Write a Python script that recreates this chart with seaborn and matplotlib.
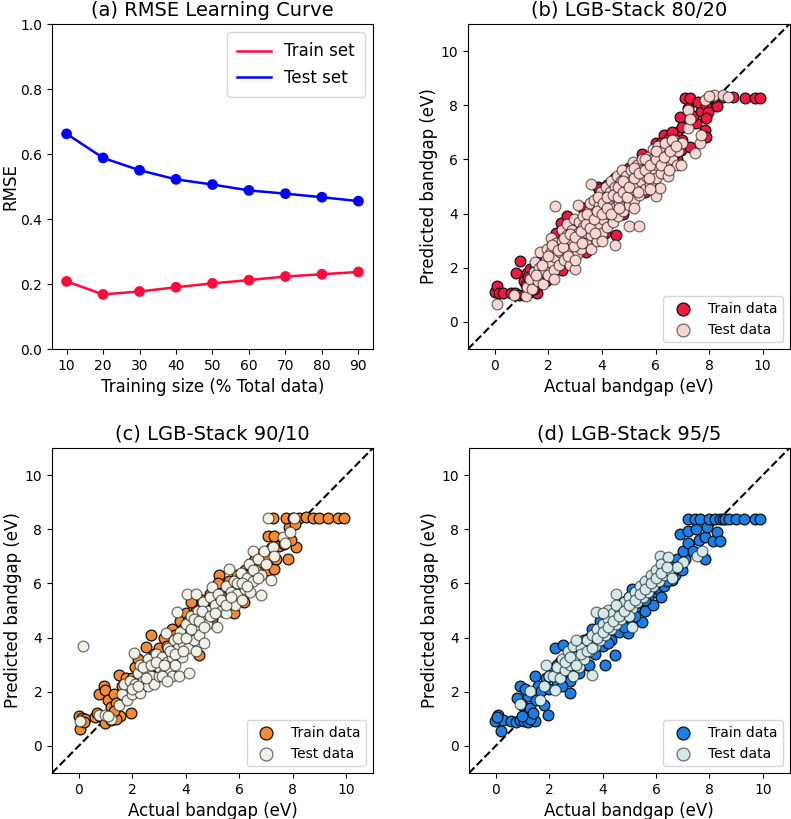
import numpy as np
import pandas as pd
import matplotlib
matplotlib.use("Agg")
import matplotlib.pyplot as plt
import seaborn as sns

# (a) learning curve
train_size = [10, 20, 30, 40, 50, 60, 70, 80, 90]
rmse_train = [0.208, 0.168, 0.177, 0.190, 0.202, 0.212, 0.223, 0.230, 0.237]
rmse_test = [0.662, 0.588, 0.550, 0.522, 0.506, 0.488, 0.478, 0.467, 0.455]

# (b) 80/20 split, (actual, predicted)
b_train = [
    (0.0, 1.1), (0.1, 1.31), (0.15, 1.07), (0.3, 1.05), (0.6, 1.05), (0.75, 1.05), (0.9, 1.0),
    (1.1, 1.0), (1.3, 1.1), (1.59, 1.05), (1.45, 1.2),
    (0.78, 1.8), (0.95, 2.24), (1.1, 1.5), (1.2, 1.8), (1.3, 1.95), (1.15, 1.35), (1.4, 1.55),
    (1.25, 1.65), (1.5, 2.0), (1.7, 2.2), (1.9, 2.4), (1.6, 1.4), (1.9, 1.5), (2.5, 1.9),
    (2.0, 2.2), (2.3, 3.28), (2.46, 3.65), (2.71, 3.9), (2.5, 2.4), (2.8, 2.9), (3.0, 3.4),
    (3.3, 3.0), (3.5, 3.7), (3.6, 4.14), (3.84, 5.0), (4.2, 5.06), (4.1, 3.3), (4.0, 4.3),
    (4.52, 3.22), (4.3, 4.6), (4.7, 4.5), (5.0, 5.3), (5.2, 4.9), (5.5, 5.8), (5.6, 4.9),
    (2.2, 2.8), (2.6, 3.3), (3.3, 4.2), (3.9, 4.9), (4.5, 5.3), (5.0, 5.7), (5.5, 6.2),
    (6.0, 6.6), (6.3, 6.9), (6.8, 7.0), (3.4, 2.6), (4.8, 4.0), (5.6, 4.8), (6.3, 5.6), (6.8, 6.0),
    (5.9, 5.92), (6.0, 6.3), (6.2, 6.6), (6.4, 6.5), (6.5, 6.8), (6.7, 6.2), (6.96, 6.35),
    (7.0, 6.72), (6.6, 7.02), (6.9, 7.58), (7.0, 7.2), (7.2, 7.89), (7.27, 6.47), (7.5, 7.33),
    (7.4, 7.6), (7.7, 7.8), (8.1, 8.1),
    (7.1, 8.26), (7.3, 8.26), (7.6, 8.13), (7.9, 8.0), (7.96, 7.76), (7.9, 7.52), (7.85, 7.09),
    (7.9, 6.84), (8.3, 7.97), (8.0, 8.26), (8.2, 8.3), (8.5, 8.3), (8.9, 8.32), (9.34, 8.26),
    (9.7, 8.26), (9.9, 8.26),
]
b_test = [
    (0.1, 0.68), (0.7, 1.0), (1.15, 0.95), (1.2, 1.3), (1.3, 1.6), (1.4, 1.2), (1.45, 1.85),
    (1.5, 2.2), (1.6, 1.5), (1.65, 2.0), (1.7, 2.6), (1.8, 1.4), (1.85, 1.9), (1.9, 2.3),
    (1.95, 2.7), (2.0, 1.75), (2.05, 2.2), (2.1, 2.6), (2.1, 3.1), (2.23, 4.28), (2.2, 1.9),
    (2.25, 2.4), (2.3, 2.9), (2.4, 2.1), (2.45, 2.6), (2.5, 3.0), (2.5, 3.4), (2.6, 2.3),
    (2.65, 2.8), (2.7, 3.2), (2.7, 3.6), (2.8, 2.1), (2.85, 2.6), (2.9, 3.0), (2.9, 3.4),
    (2.95, 3.8), (3.0, 1.95), (3.05, 2.5), (3.1, 2.9), (3.1, 3.3), (3.15, 3.7), (3.1, 4.3),
    (3.2, 2.7), (3.25, 3.1), (3.3, 3.5), (3.3, 3.9), (3.4, 2.9), (3.45, 3.3), (3.5, 3.7),
    (3.5, 4.1), (3.55, 4.4), (3.6, 2.7), (3.6, 3.2), (3.65, 3.6), (3.7, 4.0), (3.7, 4.5),
    (3.6, 5.1), (3.8, 3.0), (3.85, 3.5), (3.9, 3.9), (3.9, 4.3), (3.95, 4.8), (4.0, 3.3),
    (4.05, 3.8), (4.1, 4.2), (4.1, 4.6), (4.15, 5.0), (4.2, 3.5), (4.25, 4.0), (4.3, 4.4),
    (4.3, 4.8), (4.35, 5.2), (4.4, 3.7), (4.45, 4.2), (4.5, 4.6), (4.5, 5.0), (4.55, 5.4),
    (4.5, 2.84), (4.6, 3.9), (4.65, 4.4), (4.7, 4.8), (4.7, 5.2), (4.75, 5.6), (4.8, 4.1),
    (4.85, 4.6), (4.9, 5.0), (4.9, 5.4), (5.0, 3.55), (5.0, 4.3), (5.05, 4.8), (5.1, 5.2),
    (5.1, 5.6), (5.15, 5.9), (5.2, 4.5), (5.25, 5.0), (5.3, 5.4), (5.3, 5.8), (5.4, 3.55),
    (5.4, 4.7), (5.45, 5.2), (5.5, 5.6), (5.5, 6.0), (5.6, 4.9), (5.65, 5.4), (5.7, 5.8),
    (5.7, 6.1), (5.8, 5.1), (5.85, 5.6), (5.9, 6.0), (5.9, 6.4), (6.0, 4.65), (6.0, 5.3),
    (6.05, 5.8), (6.1, 6.2), (6.1, 6.5), (6.15, 4.95), (6.2, 5.5), (6.25, 6.0), (6.3, 6.4),
    (6.46, 5.37), (6.4, 5.8), (6.45, 6.2), (6.5, 6.6), (6.6, 6.0), (6.65, 6.4), (6.7, 6.7),
    (6.8, 5.8), (6.85, 6.3), (6.9, 6.6), (6.96, 5.8), (7.0, 6.6), (7.21, 7.15), (7.21, 7.83),
    (7.46, 6.23), (7.65, 6.6), (7.71, 6.9), (7.3, 7.5), (7.84, 8.2), (8.2, 8.38), (8.5, 8.38),
    (8.7, 8.32), (8.0, 8.35),
    (1.55, 1.75), (1.75, 2.1), (2.0, 2.45), (2.15, 2.85), (2.35, 2.65), (2.55, 2.75), (2.6, 3.1),
    (2.75, 2.45), (2.8, 3.25), (2.95, 2.8), (3.0, 3.15), (3.2, 3.35), (3.25, 2.9), (3.4, 3.6),
    (3.45, 4.0), (3.55, 3.45), (3.7, 3.8), (3.75, 3.3), (3.8, 4.1), (3.85, 4.6), (4.0, 4.0),
    (4.05, 4.4), (4.2, 4.2), (4.2, 4.6), (4.35, 4.0), (4.4, 4.7), (4.6, 4.6), (4.6, 5.0),
    (4.65, 4.2), (4.8, 4.8), (4.8, 5.2), (4.95, 4.6), (5.0, 5.0), (5.2, 5.3), (5.2, 5.7),
    (5.35, 4.8), (5.4, 5.5), (5.6, 5.6), (5.6, 6.0), (5.75, 5.3), (5.8, 5.8), (6.0, 6.0),
    (6.0, 6.3), (6.2, 5.8), (6.3, 6.1), (6.35, 6.6), (6.55, 6.3), (6.6, 6.7), (6.75, 6.5),
    (6.5, 5.6), (5.2, 4.2), (4.0, 3.0), (3.0, 2.3), (2.2, 1.6), (5.8, 4.9),
]

# (c) 90/10 split
c_train = [
    (0.0, 1.1), (0.06, 0.61), (0.12, 1.04), (0.25, 1.0), (0.2, 0.9), (0.6, 1.05), (0.8, 1.1),
    (1.0, 0.86), (1.2, 0.95), (1.56, 1.1), (1.94, 1.22), (1.4, 1.0), (0.7, 1.2),
    (0.75, 1.9), (0.94, 2.2), (1.0, 2.08), (1.1, 1.7), (1.2, 1.45), (1.3, 1.9), (1.5, 2.63),
    (1.4, 1.6), (1.6, 2.2), (1.7, 1.8), (1.75, 2.5), (1.85, 2.0), (1.3, 1.3),
    (2.12, 2.93), (2.0, 2.5), (2.3, 2.7), (2.2, 3.2), (2.5, 3.67), (2.69, 4.1), (2.4, 2.2),
    (2.6, 3.0), (2.8, 3.4), (2.9, 2.6), (3.0, 3.6), (3.2, 4.0), (3.1, 3.0), (3.4, 3.3),
    (3.5, 4.3), (3.6, 3.8), (3.8, 4.6), (3.9, 3.6), (4.0, 4.9), (4.2, 4.4), (4.3, 5.1),
    (4.5, 3.36), (4.5, 4.8), (4.6, 5.4), (4.8, 4.6), (4.9, 5.6), (5.0, 4.7), (5.1, 5.2),
    (5.25, 6.3), (5.3, 5.87), (5.4, 5.0), (5.5, 5.6), (5.6, 6.1), (5.81, 4.89), (5.8, 5.5),
    (5.9, 6.3), (6.0, 5.8), (6.19, 5.32), (6.2, 6.5), (6.3, 6.0), (6.4, 6.7), (6.5, 6.2),
    (6.6, 6.9), (6.7, 6.4), (6.8, 7.1), (6.9, 6.6), (7.06, 6.48), (7.3, 6.54), (7.37, 6.9),
    (7.06, 7.76), (7.3, 7.76), (7.2, 7.3), (7.5, 7.4), (7.69, 7.46), (7.81, 6.9), (8.12, 7.33),
    (7.87, 8.07), (7.95, 7.6),
    (2.1, 2.4), (2.4, 2.8), (2.7, 3.2), (3.0, 3.3), (3.3, 3.7), (3.6, 4.1), (3.9, 4.3),
    (4.1, 4.6), (4.4, 5.0), (4.7, 5.1), (5.0, 5.4), (5.3, 5.6), (5.6, 5.8), (5.9, 6.1),
    (6.2, 6.3), (6.5, 6.6), (6.8, 6.8), (7.0, 7.0), (5.2, 6.0), (4.2, 5.3),
    (7.25, 8.43), (7.75, 8.43), (8.0, 8.43), (8.25, 8.43), (8.5, 8.45), (8.75, 8.43),
    (9.0, 8.43), (9.3, 8.43), (9.7, 8.43), (9.9, 8.43), (8.1, 8.2),
]
c_test = [
    (0.06, 0.92), (0.16, 3.69), (0.75, 1.16), (1.0, 1.16), (1.19, 0.98), (1.1, 1.1), (1.5, 1.5),
    (1.6, 1.9), (1.7, 2.3), (1.8, 1.7), (1.9, 2.4), (2.0, 1.9), (2.06, 3.42), (2.1, 2.3),
    (2.2, 2.7), (2.3, 1.95), (2.3, 3.0), (2.4, 2.4), (2.5, 2.8), (2.6, 2.2), (2.6, 3.2),
    (2.7, 2.6), (2.8, 3.0), (2.8, 2.3), (2.9, 3.4), (3.0, 2.57), (3.0, 2.9), (3.1, 3.3),
    (3.2, 2.7), (3.25, 4.16), (3.3, 3.1), (3.35, 3.6), (3.4, 2.8), (3.5, 2.57), (3.5, 3.3),
    (3.55, 3.9), (3.6, 3.0), (3.69, 4.95), (3.7, 3.6), (3.75, 2.57), (3.8, 4.2), (3.85, 3.3),
    (3.9, 3.8), (4.0, 4.5), (4.06, 5.62), (4.1, 3.6), (4.12, 2.69), (4.15, 4.1), (4.2, 4.8),
    (4.3, 3.9), (4.37, 5.62), (4.4, 4.4), (4.45, 5.0), (4.5, 4.1), (4.6, 4.7), (4.65, 5.3),
    (4.7, 3.8), (4.8, 4.5), (4.85, 5.0), (4.9, 5.5), (5.0, 5.87), (5.0, 4.8), (5.1, 5.2),
    (5.15, 4.4), (5.2, 5.6), (5.3, 5.0), (5.4, 5.4), (5.5, 5.9), (5.5, 4.9), (5.62, 6.54),
    (5.6, 5.3), (5.7, 5.7), (5.8, 6.1), (5.85, 5.2), (5.9, 5.6), (6.0, 6.0), (6.05, 6.4),
    (6.1, 5.4), (6.2, 5.8), (6.3, 6.2), (6.35, 6.7), (6.4, 5.7), (6.5, 6.1), (6.5, 7.21),
    (6.6, 6.5), (6.7, 6.9), (6.81, 5.56), (6.8, 6.3), (6.94, 7.21), (7.0, 6.7), (7.19, 6.11),
    (7.25, 7.33), (7.3, 7.0), (7.62, 7.7), (7.7, 7.5), (7.06, 8.41), (8.06, 8.41), (7.9, 7.9),
    (2.0, 2.1), (2.2, 2.2), (2.4, 2.9), (2.5, 2.5), (2.7, 3.0), (2.9, 3.1), (3.1, 2.6),
    (3.2, 3.0), (3.4, 3.5), (3.6, 3.4), (3.7, 4.0), (3.9, 3.5), (4.0, 4.0), (4.2, 4.3),
    (4.3, 4.7), (4.5, 4.6), (4.6, 5.0), (4.7, 4.4), (4.9, 4.8), (5.1, 4.9), (5.3, 5.4),
    (5.5, 5.2), (5.7, 5.5), (5.9, 6.0), (6.1, 6.0), (6.3, 5.9), (6.5, 6.5), (6.7, 6.2),
    (3.3, 2.4), (4.4, 3.5),
]

# (d) 95/5 split
d_train = [
    (0.09, 1.16), (0.15, 0.92), (0.21, 0.55), (-0.04, 0.92), (0.27, 0.95), (0.05, 1.05),
    (0.59, 0.92), (0.75, 0.9), (0.9, 0.95), (1.05, 0.92), (1.2, 0.9), (1.46, 0.92),
    (1.96, 1.16), (1.3, 1.0), (1.0, 1.1),
    (0.9, 2.2), (0.78, 1.77), (1.0, 1.5), (1.21, 1.84), (1.1, 2.1), (1.3, 1.4), (1.46, 2.57),
    (1.5, 1.7), (1.6, 2.2), (1.71, 2.02), (1.8, 1.5), (1.9, 2.5), (1.4, 1.2),
    (2.0, 2.1), (2.1, 2.8), (2.21, 3.6), (2.3, 2.4), (2.4, 3.1), (2.52, 3.72), (2.6, 2.6),
    (2.77, 1.95), (2.7, 3.3), (2.8, 2.4), (2.9, 2.9), (3.0, 3.6), (3.1, 2.7), (3.2, 3.2),
    (3.3, 3.9), (3.4, 3.0), (3.5, 3.5), (3.6, 4.3), (3.7, 3.4), (3.8, 3.9), (3.9, 4.6),
    (4.09, 2.99), (4.0, 3.7), (4.1, 4.2), (4.2, 4.9), (4.3, 3.9), (4.46, 3.36), (4.4, 4.5),
    (4.5, 5.1), (4.6, 4.2), (4.7, 4.7), (4.8, 5.3), (4.96, 4.16), (4.9, 4.9), (5.0, 5.5),
    (5.1, 4.6), (5.2, 5.1), (5.3, 5.7), (5.46, 4.58), (5.4, 5.3), (5.5, 5.9), (5.6, 5.0),
    (5.7, 5.5), (5.8, 6.1), (5.9, 5.2), (6.0, 5.7), (6.1, 6.3), (6.2, 5.5), (6.3, 5.9),
    (6.4, 6.5), (6.59, 6.11), (6.6, 6.7), (6.7, 6.3), (6.8, 6.9), (6.96, 6.48), (7.09, 6.9),
    (7.0, 7.2), (6.9, 7.82), (7.21, 7.95), (7.2, 7.5), (7.4, 7.2), (7.5, 8.0), (7.6, 7.6),
    (7.84, 7.7), (7.84, 6.9), (7.9, 8.07), (8.15, 7.58), (8.27, 7.89), (8.4, 7.58),
    (2.0, 2.6), (2.3, 3.0), (2.5, 2.2), (2.7, 2.8), (3.0, 3.2), (3.3, 3.5), (3.5, 3.0),
    (3.7, 4.0), (4.0, 4.3), (4.2, 3.8), (4.4, 4.8), (4.6, 4.6), (4.8, 4.4), (5.0, 5.1),
    (5.2, 4.8), (5.4, 5.6), (5.6, 5.4), (5.8, 5.8), (6.0, 6.0), (6.2, 6.2), (6.4, 6.1),
    (6.6, 6.4), (6.8, 6.6), (5.1, 5.8), (4.3, 5.0), (3.5, 4.0), (2.9, 3.4),
    (7.21, 8.37), (7.45, 8.37), (7.65, 8.37), (8.0, 8.37), (8.2, 8.37), (8.4, 8.37),
    (8.5, 8.37), (8.6, 8.37), (8.75, 8.37), (9.0, 8.37), (9.3, 8.37), (9.7, 8.37), (9.9, 8.37),
]
d_test = [
    (0.9, 1.53), (1.27, 2.02), (1.65, 1.71), (1.9, 2.99), (1.8, 2.2), (2.0, 2.6), (2.15, 2.57),
    (2.21, 2.08), (2.3, 2.9), (2.4, 2.5), (2.5, 3.2), (2.6, 2.8), (2.7, 3.5), (2.8, 3.0),
    (2.9, 2.6), (2.9, 3.7), (3.0, 3.3), (3.1, 2.9), (3.2, 3.6), (3.3, 3.2), (3.4, 3.9),
    (3.5, 3.5), (3.59, 2.63), (3.6, 4.1), (3.7, 3.7), (3.77, 4.95), (3.8, 4.3), (3.9, 3.9),
    (4.0, 4.5), (4.1, 4.1), (4.21, 5.01), (4.2, 4.7), (4.3, 4.3), (4.4, 4.9), (4.52, 5.62),
    (4.5, 4.5), (4.6, 5.1), (4.7, 4.7), (4.8, 5.3), (4.9, 4.9), (5.0, 5.5), (5.09, 4.4),
    (5.1, 5.1), (5.2, 5.7), (5.3, 5.3), (5.4, 5.9), (5.5, 5.5), (5.6, 6.1), (5.7, 5.7),
    (5.8, 6.3), (5.9, 5.9), (6.0, 6.5), (6.15, 7.03), (6.1, 6.1), (6.2, 6.7), (6.3, 6.3),
    (6.46, 6.97), (6.5, 6.5), (6.6, 6.2), (7.52, 7.03), (7.71, 7.21), (7.0, 6.8), (6.8, 6.6),
    (3.0, 3.9), (4.0, 4.9), (5.0, 4.8), (4.5, 5.2),
    (2.6, 3.1), (2.8, 3.3), (3.0, 3.0), (3.2, 3.4), (3.4, 3.5), (3.6, 3.6), (3.8, 4.0),
    (4.0, 4.2), (4.2, 4.4), (4.4, 4.6), (4.6, 4.8), (4.8, 5.0), (5.0, 5.2), (5.2, 5.4),
    (5.4, 5.6), (5.6, 5.8), (5.8, 6.0), (6.0, 6.2), (6.2, 6.4), (6.4, 6.6),
]

panels = [
    ("(b) LGB-Stack 80/20", b_train, b_test, "#f2183f", "#f9d6d3"),
    ("(c) LGB-Stack 90/10", c_train, c_test, "#f58a36", "#f1f1e8"),
    ("(d) LGB-Stack 95/5", d_train, d_test, "#1a7fe8", "#d4eaea"),
]

fig = plt.figure(figsize=(7.91, 8.19), dpi=100)
W, H = 791, 819
rects = [
    (52, 24, 373, 349),
    (468, 24, 789.5, 349),
    (52, 448, 373, 773),
    (469, 448, 789.5, 773),
]
axes = [fig.add_axes([l / W, 1 - b / H, (r - l) / W, (b - t) / H]) for l, t, r, b in rects]

# learning curve
ax = axes[0]
sns.lineplot(x=train_size, y=rmse_train, color="#ff0a3a", lw=1.8, label="Train set", ax=ax)
sns.lineplot(x=train_size, y=rmse_test, color="#0000ff", lw=1.8, label="Test set", ax=ax)
sns.scatterplot(x=train_size, y=rmse_train, color="#ff0a3a", s=60, edgecolor="none", ax=ax, legend=False)
sns.scatterplot(x=train_size, y=rmse_test, color="#0000ff", s=60, edgecolor="none", ax=ax, legend=False)
ax.set_ylim(0, 1.0)
ax.set_xticks(train_size)
ax.set_title("(a) RMSE Learning Curve", fontsize=14)
ax.set_xlabel("Training size (% Total data)", fontsize=12)
ax.set_ylabel("RMSE", fontsize=12, labelpad=1)
ax.legend(loc="upper right", fontsize=12, borderpad=0.6)

for ax, (title, tr, te, c_tr, c_te) in zip(axes[1:], panels):
    tr = pd.DataFrame(tr, columns=["actual", "pred"])
    te = pd.DataFrame(te, columns=["actual", "pred"])
    # identity line sits behind the points
    ax.axline((0, 0), slope=1, color="black", ls="--", lw=1.5, zorder=0.5)
    sns.scatterplot(data=tr, x="actual", y="pred", color=c_tr, s=60, edgecolor="#111111",
                    linewidth=0.9, label="Train data", ax=ax, zorder=1)
    sns.scatterplot(data=te, x="actual", y="pred", color=c_te, s=60, edgecolor=(0, 0, 0, 0.55),
                    linewidth=0.9, label="Test data", ax=ax, zorder=1.1)
    ax.set_xlim(-1, 11)
    ax.set_ylim(-1, 11)
    ax.set_xticks(range(0, 11, 2))
    ax.set_yticks(range(0, 11, 2))
    ax.set_title(title, fontsize=14)
    ax.set_xlabel("Actual bandgap (eV)", fontsize=12)
    ax.set_ylabel("Predicted bandgap (eV)", fontsize=12, labelpad=2)
    ax.legend(loc="lower right", fontsize=10, markerscale=1.2)

fig.savefig("out.png", dpi=100)
